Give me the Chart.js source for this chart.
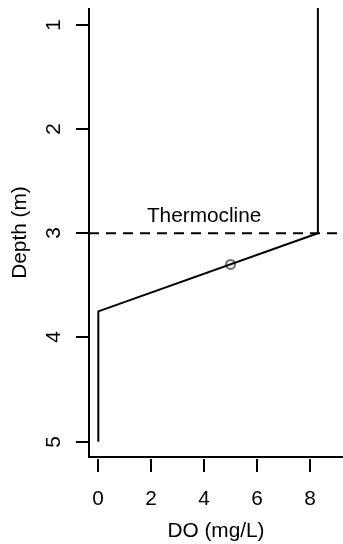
<!DOCTYPE html>
<html>
<head>
<meta charset="utf-8">
<script src="https://cdn.jsdelivr.net/npm/chart.js@4/dist/chart.umd.min.js"></script>
<style>
    html, body { margin: 0; padding: 0; background: #fff; overflow: hidden; }
    #profile { display: block; }
</style>
</head>
<body>
<canvas id="profile" width="343" height="544"></canvas>
<script>
// DO profile: depth (m) against dissolved oxygen (mg/L)
const profileDepth = [0, 3, 3.75, 5];
const profileDO = [8.3, 8.3, 0, 0];

// thermocline depth and the marked point on the gradient
const thermoclineDepth = 3;
const markDO = [5];
const markDepth = [3.3];

// axis limits and tick labels
const xLim = [-0.352, 9.25];
const yLim = [0.84, 5.147];
const xTicks = [0, 2, 4, 6, 8];
const yTicks = [1, 2, 3, 4, 5];

const FONT = '20.8px "Liberation Sans", Arial, sans-serif';

function toPoints(xs, ys) {
    let pts = [];
    for (let i = 0; i < xs.length; i++) {
        pts.push({ x: xs[i], y: ys[i] });
    }
    return pts;
}

// base-graphics style axes: L-shaped box, outside ticks, rotated y labels
const axesPlugin = {
    id: 'axesPlugin',
    afterDraw(chart) {
        const ctx = chart.ctx;
        const area = chart.chartArea;
        const xs = chart.scales.x;
        const ys = chart.scales.y;
        ctx.save();
        ctx.strokeStyle = '#000';
        ctx.fillStyle = '#000';
        ctx.lineWidth = 2;
        ctx.lineCap = 'butt';

        ctx.beginPath();
        ctx.moveTo(area.left, area.top);
        ctx.lineTo(area.left, area.bottom);
        ctx.lineTo(area.right, area.bottom);
        ctx.stroke();

        ctx.font = FONT;

        // x ticks
        ctx.textAlign = 'center';
        ctx.textBaseline = 'alphabetic';
        xTicks.forEach(function (v) {
            const px = Math.round(xs.getPixelForValue(v));
            ctx.beginPath();
            ctx.moveTo(px, area.bottom + 2);
            ctx.lineTo(px, area.bottom + 15);
            ctx.stroke();
            ctx.fillText(String(v), px, area.bottom + 48);
        });
        ctx.fillText('DO (mg/L)', (area.left + area.right) / 2, area.bottom + 80);

        // y ticks
        yTicks.forEach(function (v) {
            const py = Math.round(ys.getPixelForValue(v));
            ctx.beginPath();
            ctx.moveTo(area.left - 13, py);
            ctx.lineTo(area.left, py);
            ctx.stroke();
            ctx.save();
            ctx.translate(area.left - 29, py);
            ctx.rotate(-Math.PI / 2);
            ctx.fillText(String(v), 0, 0);
            ctx.restore();
        });
        ctx.save();
        ctx.translate(area.left - 63, (area.top + area.bottom) / 2);
        ctx.rotate(-Math.PI / 2);
        ctx.fillText('Depth (m)', 0, 0);
        ctx.restore();

        // thermocline label
        ctx.fillText('Thermocline', xs.getPixelForValue(4), ys.getPixelForValue(2.895));
        ctx.restore();
    }
};

const profileChart = new Chart(document.getElementById('profile'), {
    type: 'scatter',
    data: {
        datasets: [{
            label: 'Thermocline',
            data: toPoints(xLim, [thermoclineDepth, thermoclineDepth]),
            showLine: true,
            borderColor: '#000',
            borderWidth: 2,
            borderDash: [10, 7],
            pointRadius: 0
        }, {
            label: 'DO profile',
            data: toPoints(profileDO, profileDepth),
            showLine: true,
            borderColor: '#000',
            borderWidth: 2,
            pointRadius: 0
        }, {
            label: 'Mark',
            data: toPoints(markDO, markDepth),
            pointRadius: 4.5,
            pointBorderWidth: 2,
            pointBorderColor: '#6e6e6e',
            pointBackgroundColor: '#f2f2f2'
        }]
    },
    options: {
        responsive: false,
        devicePixelRatio: 1,
        animation: false,
        layout: {
            autoPadding: false,
            padding: { left: 89, top: 8, right: 0, bottom: 87 }
        },
        plugins: {
            legend: { display: false },
            tooltip: { enabled: false }
        },
        scales: {
            x: { type: 'linear', min: xLim[0], max: xLim[1], display: false },
            y: { type: 'linear', reverse: true, min: yLim[0], max: yLim[1], display: false }
        }
    },
    plugins: [axesPlugin]
});
</script>
</body>
</html>
